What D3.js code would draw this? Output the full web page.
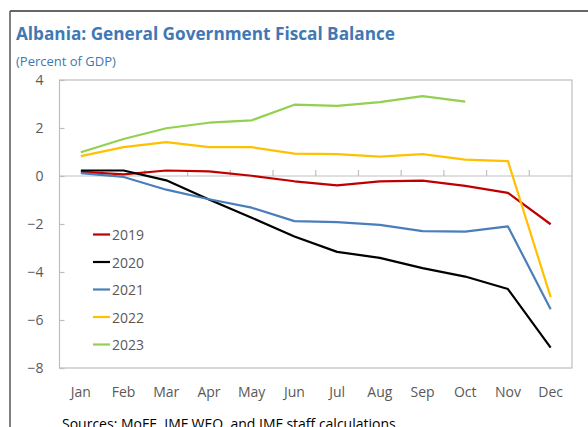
<!DOCTYPE html>
<html>
<head>
<meta charset="utf-8">
<script src="https://cdn.jsdelivr.net/npm/d3@7"></script>
<style>
  html, body { margin: 0; padding: 0; background: #fff; }
  svg { display: block; font-family: "Open Sans", "Noto Sans", sans-serif; }
</style>
</head>
<body>
<svg id="chart" width="588" height="427"></svg>
<script>
// Monthly cumulative fiscal balance, percent of GDP
const months = ["Jan", "Feb", "Mar", "Apr", "May", "Jun", "Jul", "Aug", "Sep", "Oct", "Nov", "Dec"];
const years = ["2019", "2020", "2021", "2022", "2023"];
const yTicks = [4, 2, 0, -2, -4, -6, -8];

const s2019 = [0.17, 0.07, 0.23, 0.19, 0.01, -0.22, -0.39, -0.22, -0.19, -0.41, -0.70, -2.01];
const s2020 = [0.23, 0.23, -0.18, -0.98, -1.74, -2.52, -3.16, -3.41, -3.84, -4.19, -4.71, -7.15];
const s2021 = [0.12, -0.04, -0.57, -0.97, -1.32, -1.88, -1.92, -2.04, -2.30, -2.32, -2.10, -5.55];
const s2022 = [0.83, 1.20, 1.41, 1.20, 1.20, 0.93, 0.91, 0.81, 0.91, 0.68, 0.62, -5.05];
const s2023 = [0.99, 1.54, 1.99, 2.22, 2.32, 2.97, 2.92, 3.08, 3.33, 3.10];

const seriesValues = [s2019, s2020, s2021, s2022, s2023];
const colors = ["#C00000", "#000000", "#4A7EBB", "#FFC000", "#92D050"];

const svg = d3.select("#chart");

// Outer frame (top and left edges)
svg.append("line").attr("x1", 10).attr("x2", 588).attr("y1", 11).attr("y2", 11)
  .attr("stroke", "#333").attr("stroke-width", 1.5);
svg.append("line").attr("x1", 10).attr("x2", 10).attr("y1", 11).attr("y2", 427)
  .attr("stroke", "#555").attr("stroke-width", 1.5);

// Headings
svg.append("text").attr("x", 16).attr("y", 40)
  .attr("fill", "#4178B4").attr("font-weight", "bold").attr("font-size", 17.2)
  .text("Albania: General Government Fiscal Balance");
svg.append("text").attr("x", 16).attr("y", 66)
  .attr("fill", "#4178B4").attr("font-size", 13)
  .text("(Percent of GDP)");

const plot = { left: 59.5, right: 572, top: 80, bottom: 368 };

const x = d3.scaleBand().domain(months).range([plot.left, plot.right]);
const y = d3.scaleLinear().domain([-8, 4]).range([plot.bottom, plot.top]);

// Plot area border
svg.append("rect")
  .attr("x", plot.left).attr("y", plot.top)
  .attr("width", plot.right - plot.left).attr("height", plot.bottom - plot.top)
  .attr("fill", "none").attr("stroke", "#BFBFBF").attr("stroke-width", 1.2);

// Y axis: inward ticks, labels on the left
const yAxis = d3.axisLeft(y).tickValues(yTicks).tickSize(-5).tickPadding(16)
  .tickFormat(d3.format("d"));
const gy = svg.append("g").attr("transform", `translate(${plot.left},0)`).call(yAxis);
gy.select(".domain").remove();
gy.selectAll(".tick line").attr("stroke", "#BFBFBF").attr("stroke-width", 1.2);
gy.selectAll(".tick text").attr("fill", "#595959").attr("font-size", 14)
  .attr("font-family", "'Open Sans', 'Noto Sans', sans-serif");

// Zero line with category boundary ticks pointing up
svg.append("line")
  .attr("x1", plot.left).attr("x2", plot.right)
  .attr("y1", y(0)).attr("y2", y(0))
  .attr("stroke", "#BFBFBF").attr("stroke-width", 1.2);
svg.append("g").selectAll("line")
  .data(months.slice(1))
  .join("line")
  .attr("x1", d => x(d)).attr("x2", d => x(d))
  .attr("y1", y(0)).attr("y2", y(0) - 6)
  .attr("stroke", "#BFBFBF").attr("stroke-width", 1.2);

// Month labels below the plot
svg.append("g").selectAll("text")
  .data(months)
  .join("text")
  .attr("x", d => x(d) + x.bandwidth() / 2)
  .attr("y", plot.bottom + 29)
  .attr("text-anchor", "middle")
  .attr("fill", "#595959").attr("font-size", 14)
  .text(d => d);

// Series lines
const line = d3.line()
  .x((d, i) => x(months[i]) + x.bandwidth() / 2)
  .y(d => y(d));

svg.append("g").selectAll("path")
  .data(seriesValues)
  .join("path")
  .attr("d", d => line(d))
  .attr("fill", "none")
  .attr("stroke", (d, i) => colors[i])
  .attr("stroke-width", 2.2)
  .attr("stroke-linejoin", "round");

// Legend
const legend = svg.append("g").selectAll("g")
  .data(years)
  .join("g")
  .attr("transform", (d, i) => `translate(93,${234.5 + i * 27.5})`);
legend.append("line")
  .attr("x1", 0).attr("x2", 17).attr("y1", 0).attr("y2", 0)
  .attr("stroke", (d, i) => colors[i]).attr("stroke-width", 2.2);
legend.append("text")
  .attr("x", 19).attr("y", 5.5)
  .attr("fill", "#595959").attr("font-size", 14)
  .text(d => d);

// Source note
svg.append("text").attr("x", 62).attr("y", 429)
  .attr("fill", "#000").attr("font-size", 14)
  .text("Sources: MoFE, IMF WEO, and IMF staff calculations");
</script>
</body>
</html>
